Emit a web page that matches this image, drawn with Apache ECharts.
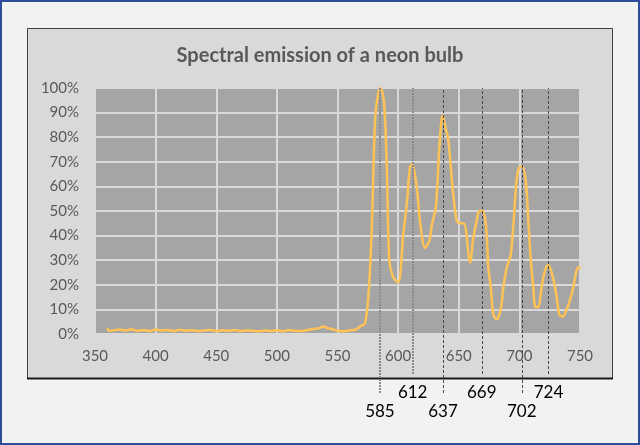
<!DOCTYPE html>
<html>
<head>
<meta charset="utf-8">
<script src="https://cdn.jsdelivr.net/npm/echarts@6/dist/echarts.min.js"></script>
<style>
  html, body { margin: 0; padding: 0; background: #f2f2f2; }
  #chart { width: 640px; height: 445px; box-sizing: border-box; border: 2px solid #2b4d9b; }
</style>
</head>
<body>
<div id="chart"></div>
<script>
// wavelength (nm) and relative intensity (%)
const wavelength = [
  360, 362, 365, 370, 375, 380, 385, 390, 395, 400, 405, 410, 415, 420, 425, 430, 435, 440, 445, 450,
  455, 460, 465, 470, 475, 480, 485, 490, 495, 500, 505, 510, 515, 520, 525, 530, 535, 538, 542, 546,
  550, 555, 560, 565, 569, 572.7, 575.4, 578.2, 581, 583.7, 585.6, 588.4, 590.6, 592.7, 596, 600.2,
  604.3, 607, 609.8, 611.7, 615.3, 618, 622.2, 625.8, 627.7, 631.2, 634, 636.8, 639.5, 641.4, 645,
  648.3, 651, 654.3, 656.5, 657.9, 659.3, 662, 664.8, 666.9, 669.7, 672.5, 674.4, 676.4, 678.5, 681.3,
  684.6, 686.8, 689.6, 692.8, 695, 697.8, 700.5, 702.7, 705.5, 707.4, 709.4, 711.5, 713.2, 715.6,
  717.8, 719.7, 722, 723.9, 726.6, 728.6, 730.8, 732.9, 735.7, 739, 741.8, 744.5, 746.7, 748.6, 750.6
];
const intensity = [
  2.4, 1.2, 1.5, 1.8, 1.4, 1.9, 1.3, 1.6, 1.2, 1.8, 1.4, 1.6, 1.2, 1.7, 1.3, 1.5, 1.2, 1.4, 1.6, 1.2,
  1.5, 1.3, 1.6, 1.2, 1.4, 1.3, 1.1, 1.4, 1.2, 1.5, 1.1, 1.6, 1.3, 1.2, 1.6, 2.0, 2.4, 3.0, 2.4, 1.9,
  1.3, 1.1, 1.5, 1.8, 3.2, 4.3, 15, 42, 87, 98, 100, 94, 69, 30, 23, 21,
  41, 52, 68, 69, 60, 46, 35, 38, 44, 52, 76, 89, 83, 79, 59,
  46, 45, 45, 40, 33, 29, 39, 46, 50, 50, 44, 27, 19, 8, 6,
  10, 19, 27, 32, 44, 63, 68, 68, 61, 46, 30, 19, 11, 11,
  17, 23, 27, 28, 25, 21, 15, 8, 7, 10, 14, 19, 25, 27, 27
];
// marked emission lines
const longLines = [585, 637, 702];
const shortLines = [612, 669, 724];
const lightLines = [585, 612];

const title = 'Spectral emission of a neon bulb';

const points = wavelength.map((w, i) => [w, intensity[i]]);

function markLines(values) {
  return values.map(v => {
    const light = lightLines.includes(v);
    return {
      xAxis: v,
      lineStyle: light
        ? { color: '#8c8c8c', width: 2, type: [2, 1] }
        : { color: '#4a4a4a', width: 1, type: [3, 2] }
    };
  });
}

const chart = echarts.init(document.getElementById('chart'));
chart.setOption({
  animation: false,
  textStyle: { fontFamily: 'Lato' },
  graphic: [{
    type: 'rect',
    z: -10,
    shape: { x: 25.5, y: 26.5, width: 585, height: 350 },
    style: { fill: '#d9d9d9', stroke: '#3f3f3f', lineWidth: 1 }
  }, {
    type: 'line',
    z: -9,
    shape: { x1: 25, y1: 376.5, x2: 611, y2: 376.5 },
    style: { stroke: '#1a1a1a', lineWidth: 2 }
  }],
  title: {
    text: title,
    left: 'center',
    top: 39,
    textStyle: { fontFamily: 'Lato', fontWeight: 'bold', fontSize: 20, color: '#595959' }
  },
  grid: [
    { left: 93, right: 58, top: 86, bottom: 109, show: true, backgroundColor: '#a5a5a5', borderWidth: 0 },
    { left: 93, right: 58, top: 86, height: 305 },
    { left: 93, right: 58, top: 86, height: 286 }
  ],
  xAxis: [0, 1, 2].map(i => ({
    type: 'value',
    gridIndex: i,
    min: 350,
    max: 750,
    interval: 50,
    show: i === 0,
    axisLine: { show: false },
    axisTick: { show: false },
    axisLabel: { color: '#595959', fontSize: 15, margin: 15 },
    splitLine: { show: i === 0, lineStyle: { color: '#d9d9d9', width: 2 } }
  })),
  yAxis: [0, 1, 2].map(i => ({
    type: 'value',
    gridIndex: i,
    min: 0,
    max: 100,
    interval: 10,
    show: i === 0,
    axisLine: { show: false },
    axisTick: { show: false },
    axisLabel: { color: '#595959', fontSize: 15, margin: 16, formatter: '{value}%' },
    splitLine: { show: i === 0, lineStyle: { color: '#d9d9d9', width: 2 } }
  })),
  series: [{
    type: 'line',
    data: points,
    smooth: 0.3,
    symbol: 'none',
    lineStyle: { color: '#ffc355', width: 2.5 },
    z: 2
  }, ...[[1, longLines], [2, shortLines]].map(([idx, vals]) => ({
    type: 'line',
    xAxisIndex: idx,
    yAxisIndex: idx,
    data: [],
    z: 5,
    markLine: {
      silent: true,
      symbol: 'none',
      animation: false,
      label: {
        position: 'start',
        distance: 10,
        color: '#000',
        fontSize: 17,
        fontFamily: 'Lato',
        formatter: p => String(p.value)
      },
      data: markLines(vals)
    }
  }))]
});
</script>
</body>
</html>
